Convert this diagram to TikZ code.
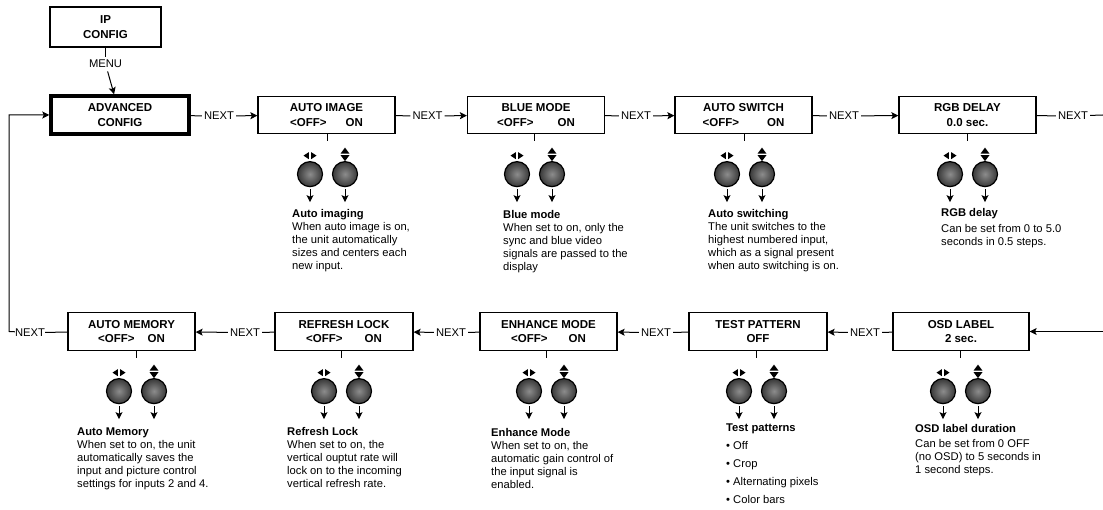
\documentclass[tikz,border=0pt]{standalone}
\usepackage{fontspec}
\setmainfont{Liberation Sans}
\usetikzlibrary{arrows.meta,positioning,calc}

\newcommand{\offon}[1]{<OFF>\hspace{#1}ON}

\begin{document}
\begin{tikzpicture}[x=1pt,y=-1pt,
      every node/.style={font=\fontsize{11.2}{13}\selectfont},
      menubox/.style={draw, line width=1.3pt, minimum width=137pt, minimum height=37pt,
        align=center, inner sep=1pt, font=\fontsize{11.5}{14.5}\selectfont\bfseries},
      msg/.style={-{Stealth[length=7pt,width=7pt,inset=1.5pt]}, line width=1pt},
      link/.style={line width=1pt},
      nextlbl/.style={inner sep=2pt},
      note/.style={anchor=north west, align=left, inner sep=0pt},
      knob/.style={inner color=black!45, outer color=black!78},
      knobpair/.pic={
        \draw[line width=1pt] (0,0) -- (0,7);
        \shade[knob] (-17,40) circle (12.5pt);
        \draw[line width=1.2pt] (-17,40) circle (12.5pt);
        \fill (-18.2,18) -- (-18.2,25) -- (-23.5,21.5) -- cycle;
        \fill (-15.8,18) -- (-15.8,25) -- (-10.5,21.5) -- cycle;
        \shade[knob] (18,40) circle (12.5pt);
        \draw[line width=1.2pt] (18,40) circle (12.5pt);
        \fill (13.5,19.5) -- (22.5,19.5) -- (18,13.5) -- cycle;
        \fill (13.5,21) -- (22.5,21) -- (18,27) -- cycle;
        \draw[msg] (-17,55) -- (-17,68);
        \draw[msg] (18,55) -- (18,68);
      }
    ]
    \useasboundingbox (0,0) rectangle (1103,510);

    % menu entry
    \node[menubox, minimum width=111pt, minimum height=40pt] (ip) at (105.5,27) {IP\\CONFIG};
    \node[menubox, line width=3.5pt, minimum width=138pt, minimum height=38pt] (adv) at (120,115) {ADVANCED\\CONFIG};
    \node (menu) at (105.5,64) {MENU};
    \draw[link] (ip) -- (menu);
    \draw[msg] (menu) -- (adv);

    % top row
    \node[menubox] (aimg) at (326.5,115) {AUTO IMAGE\\\offon{19pt}};
    \node[menubox] (blue) at (536,115) {BLUE MODE\\\offon{24pt}};
    \node[menubox] (asw) at (743.5,115) {AUTO SWITCH\\\offon{28pt}};
    \node[menubox] (rgb) at (967.5,115) {RGB DELAY\\0.0 sec.};

    % bottom row
    \node[menubox, minimum width=127pt, minimum height=38pt] (amem) at (131.5,331.5) {AUTO MEMORY\\\offon{13pt}};
    \node[menubox, minimum width=138pt, minimum height=38pt] (rlock) at (344,331.5) {REFRESH LOCK\\\offon{22pt}};
    \node[menubox, minimum width=137pt, minimum height=38pt] (enh) at (548.5,331.5) {ENHANCE MODE\\\offon{21pt}};
    \node[menubox, minimum width=138pt, minimum height=38pt] (tpat) at (758,331.5) {TEST PATTERN\\OFF};
    \node[menubox, minimum width=136pt, minimum height=38pt] (osd) at (961,331.5) {OSD LABEL\\2 sec.};

    % NEXT links, top row
    \node[nextlbl] (n1) at (219,116) {NEXT};
    \node[nextlbl] (n2) at (427.5,116) {NEXT};
    \node[nextlbl] (n3) at (636,116) {NEXT};
    \node[nextlbl] (n4) at (844,116) {NEXT};
    \node[nextlbl] (n5) at (1073,116) {NEXT};
    \coordinate (topexit) at (1103,115);
    \draw[link] (adv) -- (n1);  \draw[msg] (n1) -- (aimg);
    \draw[link] (aimg) -- (n2); \draw[msg] (n2) -- (blue);
    \draw[link] (blue) -- (n3); \draw[msg] (n3) -- (asw);
    \draw[link] (asw) -- (n4);  \draw[msg] (n4) -- (rgb);
    \draw[link] (rgb) -- (n5);  \draw[link] (n5) -- (topexit);

    % NEXT links, bottom row
    \coordinate (botentry) at (1103,331.5);
    \coordinate (loop) at (9,331.5);
    \node[nextlbl] (n6) at (865,332.5) {NEXT};
    \node[nextlbl] (n7) at (656,332.5) {NEXT};
    \node[nextlbl] (n8) at (451,332.5) {NEXT};
    \node[nextlbl] (n9) at (245,332.5) {NEXT};
    \node[nextlbl, inner sep=0pt] (n10) at (30,332.5) {NEXT};
    \draw[msg] (botentry) -- (osd);
    \draw[link] (osd) -- (n6);   \draw[msg] (n6) -- (tpat);
    \draw[link] (tpat) -- (n7);  \draw[msg] (n7) -- (enh);
    \draw[link] (enh) -- (n8);   \draw[msg] (n8) -- (rlock);
    \draw[link] (rlock) -- (n9); \draw[msg] (n9) -- (amem);
    \draw[link] (amem) -- (n10);
    \draw[msg] (n10) -- (loop) |- (adv);

    % knobs under every menu
    \foreach \b/\kx in {aimg/327,blue/534,asw/744,rgb/967,amem/136,rlock/341,enh/546,tpat/756,osd/960}
      \pic at (\kx,0 |- \b.south) {knobpair};

    % notes
    \node[note] (naimg) at (292,209) {\textbf{Auto imaging}\\When auto image is on,\\the unit automatically\\sizes and centers each\\new input.};
    \node[note] (nblue) at (503,210) {\textbf{Blue mode}\\When set to on, only the\\sync and blue video\\signals are passed to the\\display};
    \node[note] (nasw) at (708,209) {\textbf{Auto switching}\\The unit switches to the\\highest numbered input,\\which as a signal present\\when auto switching is on.};
    \node[note] (nrgb) at (941,208) {\textbf{RGB delay}\\[3pt]Can be set from 0 to 5.0\\seconds in 0.5 steps.};
    \node[note] (namem) at (77,428) {\textbf{Auto Memory}\\When set to on, the unit\\automatically saves the\\input and picture control\\settings for inputs 2 and 4.};
    \node[note] (nrlock) at (287,427) {\textbf{Refresh Lock}\\When set to on, the\\vertical ouptut rate will\\lock on to the incoming\\vertical refresh rate.};
    \node[note] (nenh) at (491,428) {\textbf{Enhance Mode}\\When set to on, the\\automatic gain control of\\the input signal is\\enabled.};
    \node[note] (ntpat) at (726,424) {\textbf{Test patterns}\\[5pt]\textbullet\ Off\\[5pt]\textbullet\ Crop\\[5pt]\textbullet\ Alternating pixels\\[5pt]\textbullet\ Color bars};
    \node[note] (nosd) at (915,424) {\textbf{OSD label duration}\\[2pt]Can be set from 0 OFF\\(no OSD) to 5 seconds in\\1 second steps.};
  \end{tikzpicture}
\end{document}
